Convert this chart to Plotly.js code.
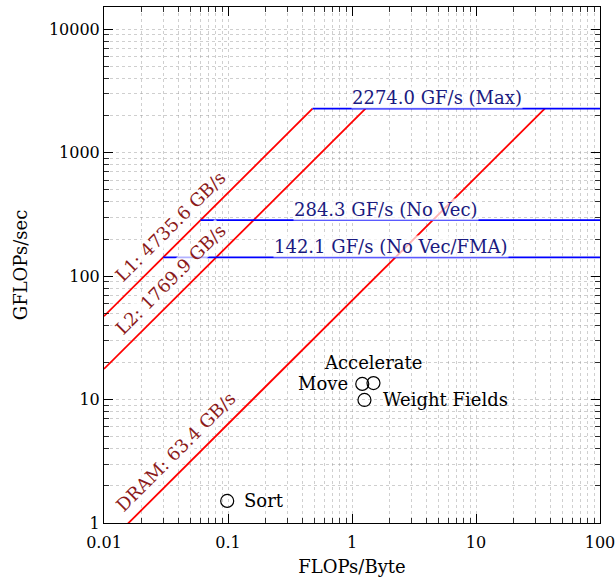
<!DOCTYPE html>
<html>
<head>
<meta charset="utf-8">
<script src="https://cdn.plot.ly/plotly-3.0.1.min.js"></script>
<style>html,body{margin:0;padding:0;background:#fff;}#chart{width:616px;height:582px;}</style>
</head>
<body>
<div id="chart"></div>
<script>
// ---- data ----
const bandwidthNames = ['L1', 'L2', 'DRAM'];
const bandwidths = [4735.6, 1769.9, 63.4];          // GB/s
const peakNames = ['Max', 'No Vec', 'No Vec/FMA'];
const peaks = [2274.0, 284.3, 142.1];               // GF/s
const kernelNames = ['Sort', 'Move', 'Accelerate', 'Weight Fields'];
const kernelAI = [0.0985, 1.21, 1.49, 1.26];        // FLOPs/Byte
const kernelPerf = [1.51, 13.4, 13.6, 9.93];        // GFLOPs/sec
const xTickVals = [0.01, 0.1, 1, 10, 100];
const xTickText = ['0.01', '0.1', '1', '10', '100'];
const yTickVals = [1, 10, 100, 1000, 10000];
const yTickText = ['1', '10', '100', '1000', '10000'];

const X_MIN = 0.01, X_MAX = 100;
const SERIF = 'DejaVu Serif, serif';
const RED_TXT = '#8b1a1a';
const BLUE_TXT = '#1a1a80';

function minorVals(lo, hi) {
  const v = [];
  for (let e = lo; e < hi; e++) for (let d = 2; d <= 9; d++) v.push(d * Math.pow(10, e));
  return v;
}

const traces = [];
const maxPeak = Math.max(...peaks);
const topBW = Math.max(...bandwidths);
// bandwidth roofs (diagonal)
bandwidths.forEach((bw, i) => {
  traces.push({
    x: [X_MIN, maxPeak / bw], y: [bw * X_MIN, maxPeak],
    mode: 'lines', line: {color: '#ff0000', width: 1.8},
    hoverinfo: 'skip', showlegend: false, cliponaxis: true
  });
});
// compute roofs (horizontal)
peaks.forEach((p, i) => {
  traces.push({
    x: [p / topBW, X_MAX], y: [p, p],
    mode: 'lines', line: {color: '#0000ff', width: 1.8},
    hoverinfo: 'skip', showlegend: false
  });
});
// kernels
traces.push({
  x: kernelAI, y: kernelPerf, mode: 'markers',
  marker: {symbol: 'circle-open', size: 13, color: '#000', line: {width: 1.2, color: '#000'}},
  hoverinfo: 'skip', showlegend: false
});

const annotations = [];
// bandwidth labels along diagonals
const bwLabelX = [0.0426, 0.0426, 0.0475];
bandwidths.forEach((bw, i) => {
  annotations.push({
    x: Math.log10(bwLabelX[i]), y: Math.log10(bw * bwLabelX[i]),
    xref: 'x', yref: 'y', showarrow: false, textangle: -45,
    xshift: -12, yshift: 12,
    text: bandwidthNames[i] + ': ' + bw.toFixed(1) + ' GB/s',
    font: {family: SERIF, size: 18, color: RED_TXT},
    bgcolor: 'rgba(255,255,255,0.7)', borderpad: 0
  });
});
// peak labels
const peakLabelX = [4.84, 1.88, 2.07];
peaks.forEach((p, i) => {
  annotations.push({
    x: Math.log10(peakLabelX[i]), y: Math.log10(p),
    xref: 'x', yref: 'y', showarrow: false, yshift: 11,
    text: p.toFixed(1) + ' GF/s (' + peakNames[i] + ')',
    font: {family: SERIF, size: 18, color: BLUE_TXT},
    bgcolor: 'rgba(255,255,255,0.7)', borderpad: 0
  });
});
// kernel labels
const kAnchor = ['left', 'right', 'center', 'left'];
const kShift = [[15, 0], [-12, 0], [0, 21], [17, 0]];
kernelNames.forEach((n, i) => {
  annotations.push({
    x: Math.log10(kernelAI[i]), y: Math.log10(kernelPerf[i]),
    xref: 'x', yref: 'y', showarrow: false,
    xanchor: kAnchor[i], xshift: kShift[i][0], yshift: kShift[i][1],
    text: n, font: {family: SERIF, size: 18, color: '#000'}
  });
});

const gridCol = 'rgba(150,150,150,0.65)';
const axisCommon = {
  type: 'log', tickmode: 'array',
  showline: true, linecolor: '#000', linewidth: 1, mirror: 'allticks',
  ticks: 'inside', ticklen: 9, tickwidth: 1, tickcolor: '#000',
  showgrid: true, gridcolor: gridCol, gridwidth: 0.7, griddash: 'dot',
  zeroline: false, automargin: false,
  tickfont: {family: SERIF, size: 16, color: '#000'}
};

const layout = {
  width: 616, height: 582,
  margin: {l: 104, r: 16, t: 7, b: 59},
  paper_bgcolor: '#fff', plot_bgcolor: '#fff',
  showlegend: false,
  xaxis: Object.assign({}, axisCommon, {
    range: [-2, 2], tickvals: xTickVals, ticktext: xTickText, ticklabelstandoff: 5,
    minor: {tickmode: 'array', tickvals: minorVals(-2, 2), ticks: 'inside', ticklen: 5,
            tickcolor: '#000', tickwidth: 0.8, showgrid: true, gridcolor: gridCol, gridwidth: 0.7, griddash: 'dot'},
    title: {text: 'FLOPs/Byte', font: {family: SERIF, size: 18, color: '#000'}, standoff: 9}
  }),
  yaxis: Object.assign({}, axisCommon, {
    range: [0, 4.181], tickvals: yTickVals, ticktext: yTickText,
    minor: {tickmode: 'array', tickvals: minorVals(0, 5), ticks: 'inside', ticklen: 5,
            tickcolor: '#000', tickwidth: 0.8, showgrid: true, gridcolor: gridCol, gridwidth: 0.7, griddash: 'dot'},
    title: {text: 'GFLOPs/sec', font: {family: SERIF, size: 18, color: '#000'}, standoff: 16}
  }),
  annotations: annotations
};

Plotly.newPlot('chart', traces, layout, {displayModeBar: false, staticPlot: true});
</script>
</body>
</html>
